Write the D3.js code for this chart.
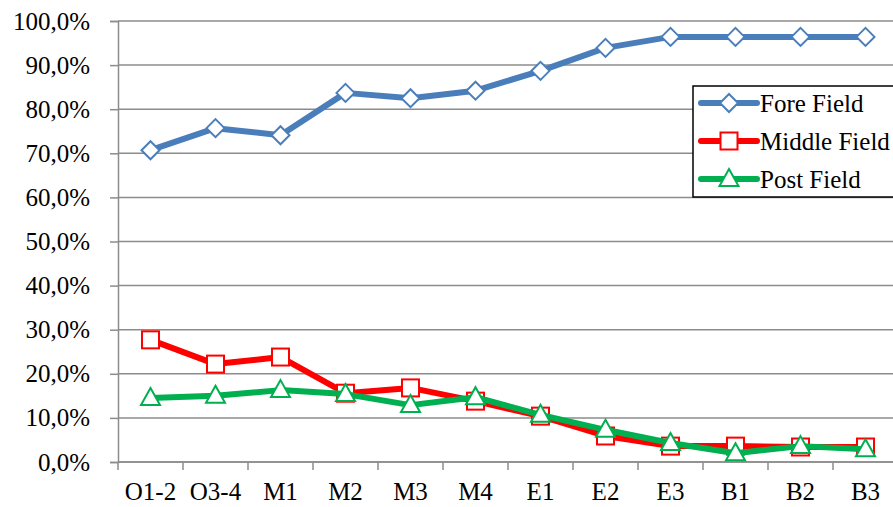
<!DOCTYPE html>
<html>
<head>
<meta charset="utf-8">
<script src="https://cdnjs.cloudflare.com/ajax/libs/d3/7.8.5/d3.min.js"></script>
<style>
  html, body { margin: 0; padding: 0; background: #fff; overflow: hidden; }
  svg { display: block; font-family: "Liberation Serif", "Times New Roman", serif; }
</style>
</head>
<body>
<svg id="chart" width="893" height="507"></svg>
<script>
const categories = ['O1-2', 'O3-4', 'M1', 'M2', 'M3', 'M4', 'E1', 'E2', 'E3', 'B1', 'B2', 'B3'];
const foreField = [70.7, 75.7, 74.1, 83.7, 82.5, 84.2, 88.7, 93.9, 96.4, 96.4, 96.4, 96.4];
const middleField = [27.7, 22.2, 23.8, 15.6, 16.8, 13.8, 10.4, 5.9, 3.6, 3.6, 3.4, 3.4];
const postField = [14.5, 15.0, 16.3, 15.4, 12.9, 14.7, 10.7, 7.3, 4.3, 2.0, 3.6, 2.9];
const yTicks = [0, 10, 20, 30, 40, 50, 60, 70, 80, 90, 100];

const series = [
  { name: 'Fore Field', values: foreField, color: '#4a7ebb', marker: 'diamond' },
  { name: 'Middle Field', values: middleField, color: '#ff0000', marker: 'square' },
  { name: 'Post Field', values: postField, color: '#00b050', marker: 'triangle' }
];

const FONT = '"Liberation Serif", "Times New Roman", serif';
const svg = d3.select('#chart');
const plotLeft = 118, plotTop = 21, plotBottom = 462, plotRight = 898;

const x = d3.scaleBand()
  .domain(categories)
  .range([plotLeft, plotRight]);

const y = d3.scaleLinear()
  .domain([0, 100])
  .range([plotBottom, plotTop]);

// gridlines
svg.append('g')
  .selectAll('line')
  .data(yTicks)
  .enter()
  .append('line')
  .attr('x1', plotLeft)
  .attr('x2', 893)
  .attr('y1', d => y(d))
  .attr('y2', d => y(d))
  .style('stroke', '#8c8c8c')
  .style('stroke-width', 1.5);

// y axis
const yAxis = svg.append('g')
  .attr('transform', `translate(${plotLeft},0)`)
  .call(d3.axisLeft(y).tickValues(yTicks).tickSize(8).tickPadding(20)
    .tickFormat(d => d3.format('.1f')(d).replace('.', ',') + '%'));
yAxis.attr('font-family', FONT).attr('font-size', 25);
yAxis.select('.domain').style('stroke', '#8c8c8c').style('stroke-width', 1.5);
yAxis.selectAll('.tick line').style('stroke', '#8c8c8c').style('stroke-width', 1.5);
yAxis.selectAll('text').style('fill', '#000');

// x axis
const xAxis = svg.append('g')
  .attr('transform', `translate(0,${plotBottom})`)
  .call(d3.axisBottom(x).tickSize(0).tickPadding(20));
xAxis.attr('font-family', FONT).attr('font-size', 25);
xAxis.select('.domain').remove();
xAxis.selectAll('text').style('fill', '#000');

svg.append('line')
  .attr('x1', plotLeft).attr('x2', 893)
  .attr('y1', plotBottom).attr('y2', plotBottom)
  .style('stroke', '#8c8c8c').style('stroke-width', 1.5);

svg.append('g')
  .selectAll('line')
  .data(categories)
  .enter()
  .append('line')
  .attr('x1', d => x(d))
  .attr('x2', d => x(d))
  .attr('y1', plotBottom)
  .attr('y2', plotBottom + 8)
  .style('stroke', '#8c8c8c')
  .style('stroke-width', 1.5);

const cx = d => x(d) + x.bandwidth() / 2;

function drawMarker(g, type, color) {
  if (type === 'diamond') {
    g.append('path').attr('d', 'M0,-9L9,0L0,9L-9,0Z');
  } else if (type === 'square') {
    g.append('rect').attr('x', -8.5).attr('y', -8.5).attr('width', 17).attr('height', 17);
  } else {
    g.append('path').attr('d', 'M0,-10L9.5,7L-9.5,7Z');
  }
  g.selectAll('path, rect')
    .style('fill', '#fff')
    .style('stroke', color)
    .style('stroke-width', 2);
}

const line = d3.line()
  .x((d, i) => cx(categories[i]))
  .y(d => y(d));

series.forEach(s => {
  svg.append('path')
    .datum(s.values)
    .attr('d', line)
    .style('fill', 'none')
    .style('stroke', s.color)
    .style('stroke-width', 6)
    .style('stroke-linejoin', 'round');

  svg.append('g')
    .selectAll('g')
    .data(s.values)
    .enter()
    .append('g')
    .attr('transform', (d, i) => `translate(${cx(categories[i])},${y(d)})`)
    .each(function() { drawMarker(d3.select(this), s.marker, s.color) });
});

// legend
const legend = svg.append('g').attr('transform', 'translate(693,86)');
legend.append('rect')
  .attr('width', 220)
  .attr('height', 111)
  .style('fill', '#fff')
  .style('stroke', '#000')
  .style('stroke-width', 1.5);

const item = legend.selectAll('.item')
  .data(series)
  .enter()
  .append('g')
  .attr('transform', (d, i) => `translate(0,${17 + i * 38})`);

item.append('line')
  .attr('x1', 8).attr('x2', 64)
  .style('stroke', d => d.color)
  .style('stroke-width', 6)
  .style('stroke-linecap', 'round');

item.append('g')
  .attr('transform', 'translate(36,0)')
  .each(function(d) { drawMarker(d3.select(this), d.marker, d.color) });

item.append('text')
  .attr('x', 67)
  .attr('dy', '0.35em')
  .style('font-size', '25px')
  .text(d => d.name);
</script>
</body>
</html>
